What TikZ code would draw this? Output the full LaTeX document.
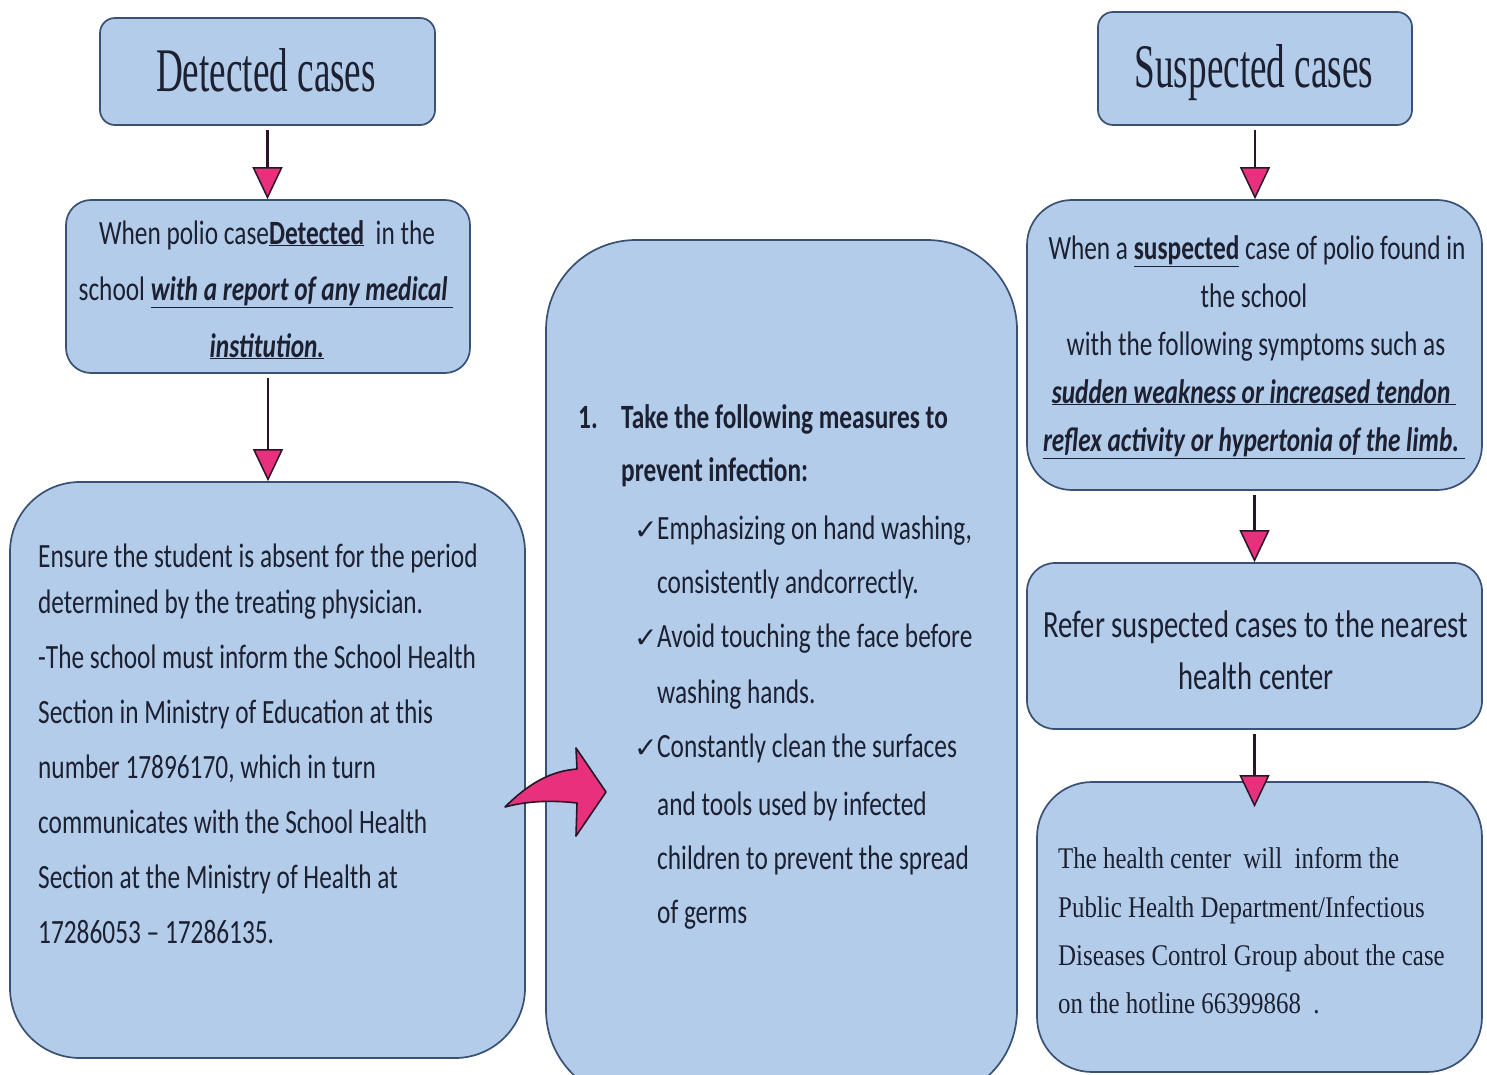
\documentclass[tikz,border=0pt]{standalone}
\usepackage{fontspec}
\usetikzlibrary{arrows.meta}
\newfontfamily\bodyf[FakeStretch=0.745]{Carlito}
\newfontfamily\titlef[FakeStretch=0.6]{Liberation Serif}
\newfontfamily\serf[FakeStretch=0.83]{Liberation Serif}
\newfontfamily\symf{DejaVu Sans}
\definecolor{boxfill}{RGB}{178,204,234}
\definecolor{boxline}{RGB}{58,80,116}
\definecolor{pinkc}{RGB}{232,48,124}
\definecolor{txt}{RGB}{28,32,48}
\definecolor{arrline}{RGB}{40,22,40}
\begin{document}
\begin{tikzpicture}[x=1pt,y=-1pt,
  box/.style={draw=boxline, line width=1.7pt, fill=boxfill, inner sep=0pt, rectangle},
  body/.style={font=\bodyf\fontsize{34}{40}\selectfont, text=txt, inner sep=0pt},
  bigbody/.style={font=\bodyf\fontsize{38.5}{44}\selectfont, text=txt, inner sep=0pt},
  serbody/.style={font=\serf\fontsize{30}{36}\selectfont, text=txt, inner sep=0pt},
  title/.style={font=\titlef\fontsize{62}{70}\selectfont, text=txt, inner sep=0pt},
  tick/.style={font=\symf\fontsize{28}{32}\selectfont, text=txt, inner sep=0pt},
  flow/.style={draw=arrline, line width=2.6pt, shorten <=4pt,
    -{Triangle[width=30pt,length=32pt,fill=pinkc,line width=1.5pt]}},
  bigarrow/.style={fill=pinkc, draw=arrline, line width=1.6pt, line join=round}
]
\fill[white] (0,0) rectangle (1487,1075);
\useasboundingbox (0,0) rectangle (1487,1075);
\clip (0,0) rectangle (1487,1075);

% boxes
\node[box, rounded corners=15pt, minimum width=335pt, minimum height=107pt] (det) at (267.5,71.5) {};
\node[box, rounded corners=25pt, minimum width=404pt, minimum height=173pt] (b2) at (268,286.5) {};
\node[box, rounded corners=70pt, minimum width=515pt, minimum height=576pt] (b3) at (267.5,770) {};
\node[box, rounded corners=90pt, minimum width=471pt, minimum height=860pt] (mid) at (781.5,670) {};
\node[box, rounded corners=15pt, minimum width=314pt, minimum height=113pt] (sus) at (1255,68.5) {};
\node[box, rounded corners=45pt, minimum width=455pt, minimum height=290pt] (s2) at (1254.5,345) {};
\node[box, rounded corners=28pt, minimum width=455pt, minimum height=166pt] (s3) at (1254.5,646) {};
\node[box, rounded corners=55pt, minimum width=445pt, minimum height=290pt] (s4) at (1259.5,927) {};

% titles
\node[title, anchor=base] (tdet) at (266,92) {Detected cases};
\node[title, anchor=base] (tsus) at (1254,88) {Suspected cases};

% box 2 text
\node[body, anchor=base] (b2a) at (267,244) {When polio case\underline{\bfseries Detected}\ \ in the};
\node[body, anchor=base] (b2b) at (266,300) {school \underline{\bfseries\itshape with a report of any medical\ }};
\node[body, anchor=base] (b2c) at (267,357) {\underline{\bfseries\itshape institution.}};

% box 3 text
\node[body, anchor=base west] (b3a) at (38,567) {Ensure the student is absent for the period};
\node[body, anchor=base west] (b3b) at (38,613) {determined by the treating physician.};
\node[body, anchor=base west] (b3c) at (38,668) {-The school must inform the School Health};
\node[body, anchor=base west] (b3d) at (38,723) {Section in Ministry of Education at this};
\node[body, anchor=base west] (b3e) at (38,778) {number 17896170, which in turn};
\node[body, anchor=base west] (b3f) at (38,833) {communicates with the School Health};
\node[body, anchor=base west] (b3g) at (38,888) {Section at the Ministry of Health at};
\node[body, anchor=base west] (b3h) at (38,943) {17286053 – 17286135.};

% middle text
\node[body, anchor=base west] (m0) at (578,428) {\bfseries 1.};
\node[body, anchor=base west] (m1) at (621,428) {\bfseries Take the following measures to};
\node[body, anchor=base west] (m2) at (621,481) {\bfseries prevent infection:};
\node[tick, anchor=base west] (k1) at (634,539) {✓};
\node[body, anchor=base west] (m3) at (657,539) {Emphasizing on hand washing,};
\node[body, anchor=base west] (m4) at (657,593) {consistently andcorrectly.};
\node[tick, anchor=base west] (k2) at (634,647) {✓};
\node[body, anchor=base west] (m5) at (657,647) {Avoid touching the face before};
\node[body, anchor=base west] (m6) at (657,703) {washing hands.};
\node[tick, anchor=base west] (k3) at (634,757) {✓};
\node[body, anchor=base west] (m7) at (657,757) {Constantly clean the surfaces};
\node[body, anchor=base west] (m8) at (657,815) {and tools used by infected};
\node[body, anchor=base west] (m9) at (657,869) {children to prevent the spread};
\node[body, anchor=base west] (m10) at (657,923) {of germs};

% s2 text
\node[body, anchor=base] (s2a) at (1257,259) {When a \underline{\bfseries suspected} case of polio found in};
\node[body, anchor=base] (s2b) at (1254,307) {the school};
\node[body, anchor=base] (s2c) at (1256,355) {with the following symptoms such as};
\node[body, anchor=base] (s2d) at (1254,403) {\underline{\bfseries\itshape sudden weakness or increased tendon\ }};
\node[body, anchor=base] (s2e) at (1254,451) {\underline{\bfseries\itshape reflex activity or hypertonia of the limb.\ }};

% s3 text
\node[bigbody, anchor=base] (s3a) at (1256,637) {Refer suspected cases to the nearest};
\node[bigbody, anchor=base] (s3b) at (1256,689) {health center};

% s4 text
\node[serbody, anchor=base west] (s4a) at (1058,868) {The health center\ \ will\ \ inform the};
\node[serbody, anchor=base west] (s4b) at (1058,917) {Public Health Department/Infectious};
\node[serbody, anchor=base west] (s4c) at (1058,965) {Diseases Control Group about the case};
\node[serbody, anchor=base west] (s4d) at (1058,1013) {on the hotline 66399868\ \ .};

% connectors
\path (s4.north) ++(0,26) coordinate (s4in);
\draw[flow] (det.south) -- (det.south |- b2.north);
\draw[flow] (b2.south) -- (b2.south |- b3.north);
\draw[flow] (sus.south) -- (sus.south |- s2.north);
\draw[flow] (s2.south) -- (s2.south |- s3.north);
\draw[flow] (s3.south) -- (s3.south |- s4in);

% curved block arrow from box 3 to the middle box
\filldraw[bigarrow] (505,807) .. controls (530,782) and (552,771) .. (577,769)
  -- (576,748) -- (606,792) -- (576,836) -- (577,803)
  .. controls (552,800) and (527,801) .. (505,807) -- cycle;
\end{tikzpicture}
\end{document}
